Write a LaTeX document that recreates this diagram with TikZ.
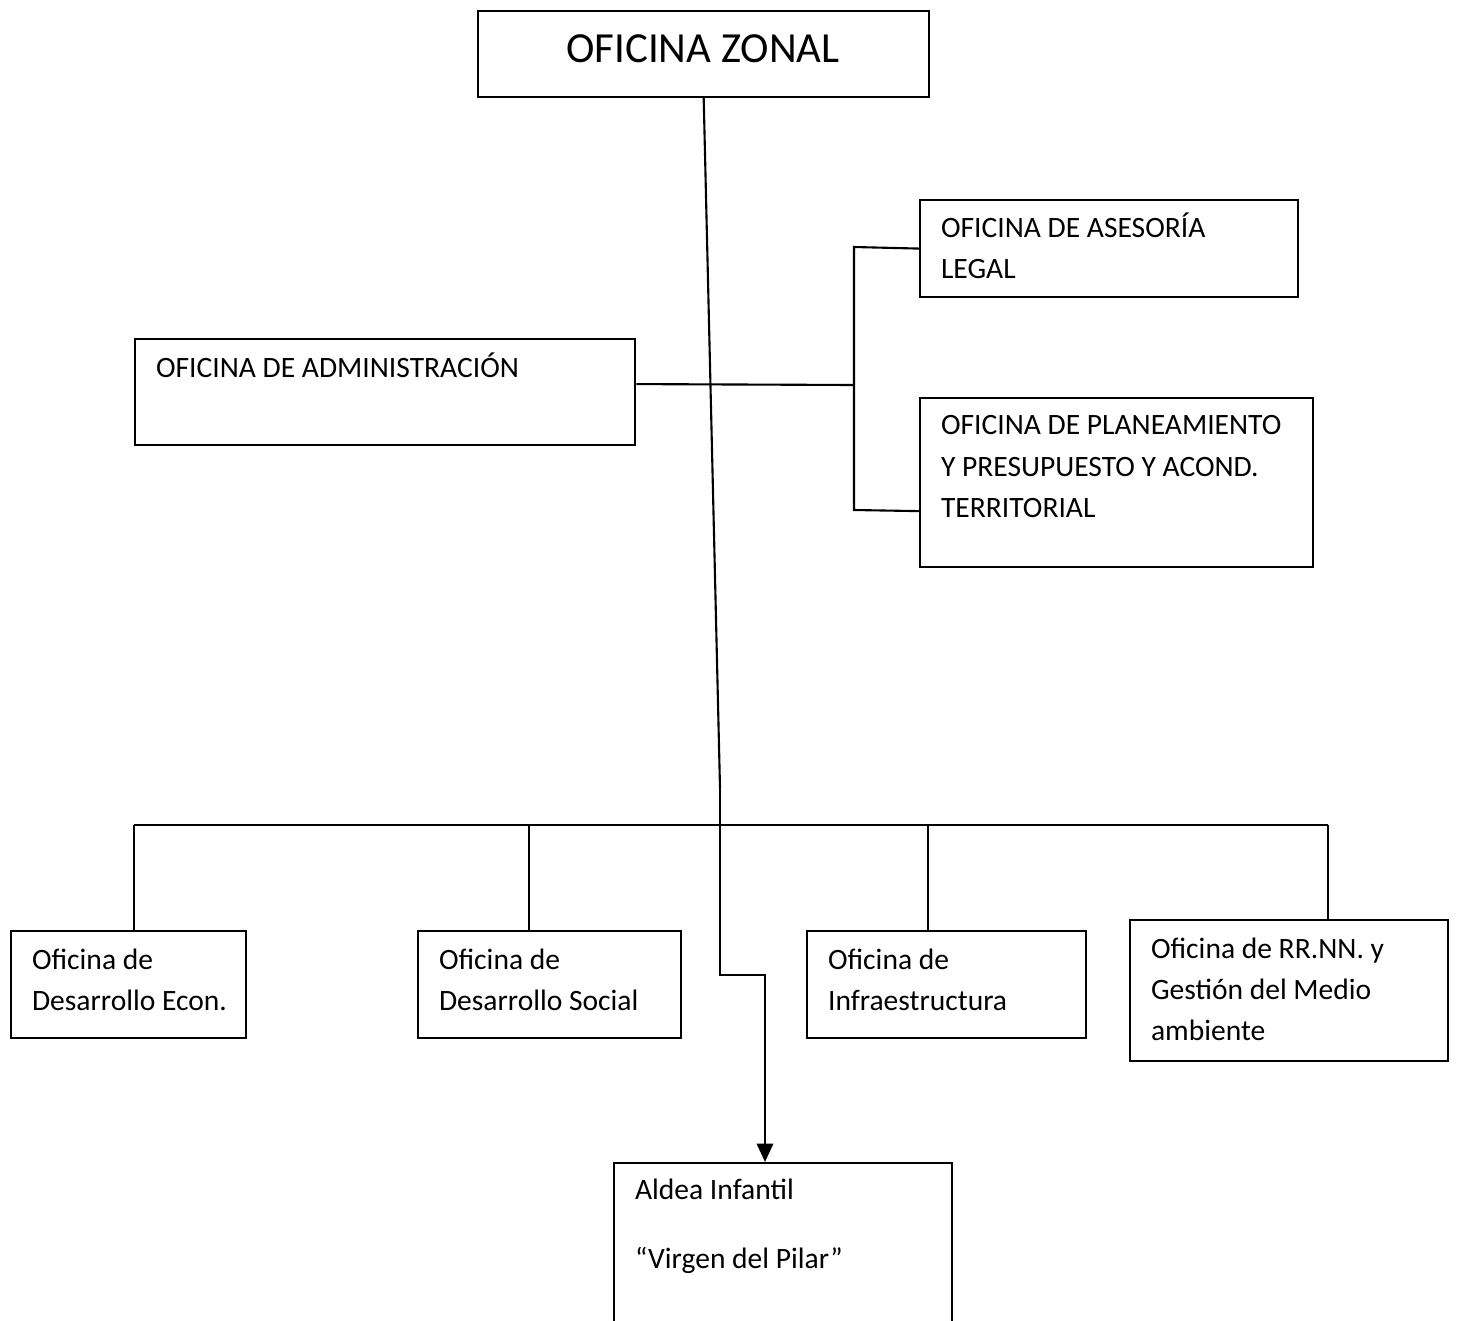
\documentclass[tikz,border=0pt]{standalone}
\usepackage{fontspec}
\setmainfont{Carlito}
\usetikzlibrary{arrows.meta}
\tikzset{
  box/.style={draw,line width=0.6pt,anchor=north west,inner sep=0pt},
  txt/.style={anchor=base west,align=left,inner sep=0pt,font=\fontsize{8.4}{11.66}\selectfont},
  bus/.style={line width=0.75pt}
}
\begin{document}
\begin{tikzpicture}[x=0.01cm,y=-0.01cm,>={Triangle[width=4.6pt,length=5.2pt]},line width=0.6pt]
        \clip (0,0) rectangle (1457,1321);
        % cajas
        \node[box,minimum width=4.51cm,minimum height=0.86cm] (zonal) at (477,10){};
        \node[box,minimum width=3.78cm,minimum height=0.97cm] (legal) at (919,199){};
        \node[box,minimum width=5.00cm,minimum height=1.06cm] (admin) at (134,338){};
        \node[box,minimum width=3.93cm,minimum height=1.69cm] (plan) at (919,397){};
        \node[box,minimum width=2.35cm,minimum height=1.07cm] (econ) at (10,930){};
        \node[box,minimum width=2.63cm,minimum height=1.07cm] (social) at (417,930){};
        \node[box,minimum width=2.79cm,minimum height=1.07cm] (infra) at (806,930){};
        \node[box,minimum width=3.18cm,minimum height=1.41cm] (rrnn) at (1129,919){};
        \node[box,minimum width=3.38cm,minimum height=2.00cm] (aldea) at (613,1162){};
        % textos (base = ultima linea)
        \node[anchor=base,inner sep=0pt,font=\fontsize{12.2}{15}\selectfont] (zonaltxt) at (703,62){OFICINA ZONAL};
        \node[txt] (legaltxt) at (940,278){OFICINA DE ASESORÍA\\LEGAL};
        \node[txt] (admintxt) at (155,377){OFICINA DE ADMINISTRACIÓN};
        \node[txt] (plantxt) at (940,517){OFICINA DE PLANEAMIENTO\\Y PRESUPUESTO Y ACOND.\\TERRITORIAL};
        \node[txt] (econtxt) at (31,1010){Oficina de\\Desarrollo Econ.};
        \node[txt] (socialtxt) at (438,1010){Oficina de\\Desarrollo Social};
        \node[txt] (infratxt) at (827,1010){Oficina de\\Infraestructura};
        \node[txt] (rrnntxt) at (1150,1040){Oficina de RR.NN. y\\Gestión del Medio\\ambiente};
        \node[txt] (aldeatxt) at (634,1268){Aldea Infantil\\[7.7pt]“Virgen del Pilar”};
        % lineas
        \coordinate (top) at (720,788);
        \coordinate (bend) at (765,975);
        \coordinate (brk) at (854,385);
        \coordinate (busL) at (134,825);
        \coordinate (busR) at (1328,825);
        \draw (zonal.south) -- (top);
        \draw[bus,->] (top) |- (bend) -- (bend |- aldea.north);
        \draw ([yshift=0.08cm]admin.east) -- (brk);
        \draw (legal.west) -- (854,247) -- (854,510) -- ([yshift=-0.285cm]plan.west);
        \draw[bus] (busL) -- (busR);
        \foreach \x/\n in {134/econ,529/social,928/infra,1328/rrnn}
            \draw (\x,825) -- (\x,825 |- \n.north);
    \end{tikzpicture}
\end{document}
